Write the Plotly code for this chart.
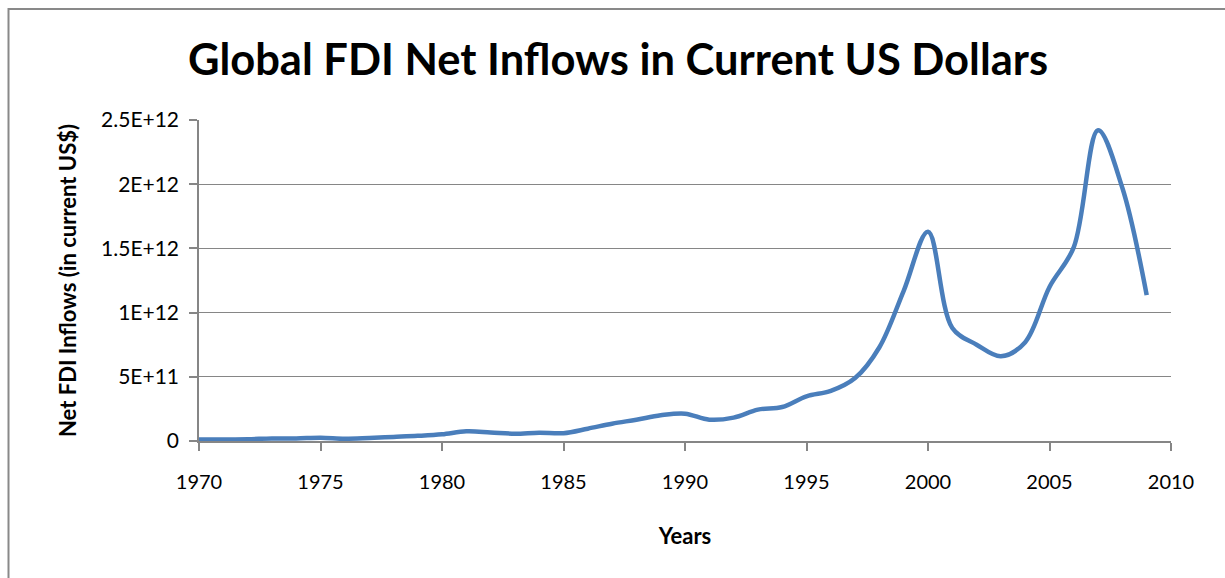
import plotly.graph_objects as go

years = list(range(1970, 2010))
fdi_inflows = [
    1.1e10, 1.2e10, 1.4e10, 2.0e10, 2.0e10, 2.6e10, 1.8e10, 2.4e10, 3.2e10, 4.0e10,
    5.2e10, 7.5e10, 6.7e10, 5.7e10, 6.5e10, 6.1e10, 9.6e10, 1.35e11, 1.66e11, 2.0e11,
    2.13e11, 1.66e11, 1.82e11, 2.44e11, 2.65e11, 3.48e11, 3.9e11, 4.9e11, 7.3e11, 1.17e12,
    1.63e12, 0.88e12, 0.75e12, 0.66e12, 0.77e12, 1.2e12, 1.51e12, 2.42e12, 1.97e12, 1.136e12,
]
y_tickvals = [0, 5e11, 1e12, 1.5e12, 2e12, 2.5e12]
y_ticktext = ["0", "5E+11", "1E+12", "1.5E+12", "2E+12", "2.5E+12"]
x_tickvals = [1970, 1975, 1980, 1985, 1990, 1995, 2000, 2005, 2010]

FONT = "Lato"
GRAY = "#868686"

fig = go.Figure()
fig.add_trace(go.Scatter(
    x=years, y=fdi_inflows, mode="lines",
    line=dict(color="#4A7EBB", width=4.5, shape="spline", smoothing=1.0),
    hoverinfo="x+y", showlegend=False,
))

L, R, T, B = 199, 54, 120, 137
W, H = 1225, 578
pw, ph = W - L - R, H - T - B

fig.update_layout(
    width=W, height=H,
    margin=dict(l=L, r=R, t=T, b=B),
    paper_bgcolor="white", plot_bgcolor="white",
    font=dict(family=FONT, color="black"),
    title=dict(text="<b>Global FDI Net Inflows in Current US Dollars</b>",
               x=618 / W, xanchor="center", y=1 - 60 / H, yanchor="middle",
               font=dict(family=FONT, size=43.5, color="black")),
    xaxis=dict(range=[1970, 2010], tickvals=x_tickvals, ticks="outside", ticklen=8,
               tickcolor=GRAY, tickwidth=1.5, showline=True, linecolor=GRAY, linewidth=1.5,
               showgrid=False, zeroline=False, ticklabelstandoff=14,
               tickfont=dict(family=FONT, size=20, color="black"),
               title=dict(text="<b>Years</b>", font=dict(family=FONT, size=22, color="black"),
                          standoff=37)),
    yaxis=dict(range=[0, 2.5e12], tickvals=y_tickvals, ticktext=y_ticktext,
               ticks="outside", ticklen=8, tickcolor=GRAY, tickwidth=1.5,
               showline=True, linecolor=GRAY, linewidth=1.5, ticklabelstandoff=6,
               showgrid=True, gridcolor=GRAY, gridwidth=1.3, zeroline=False,
               tickfont=dict(family=FONT, size=21, color="black"),
               title=dict(text="<b>Net FDI Inflows (in current US$)</b>",
                          font=dict(family=FONT, size=22, color="black"), standoff=18)),
)

# outer chart border (Excel chart area frame)
fig.add_shape(type="rect", xref="paper", yref="paper",
              x0=(8.5 - L) / pw, x1=(W + 20 - L) / pw,
              y0=-(B + 20) / ph, y1=1 + (T - 9) / ph,
              line=dict(color="#898989", width=2), layer="below")

fig.write_html("out.html", config={"displayModeBar": False},
               post_script="document.body.style.margin='0';document.body.style.overflow='hidden';")
